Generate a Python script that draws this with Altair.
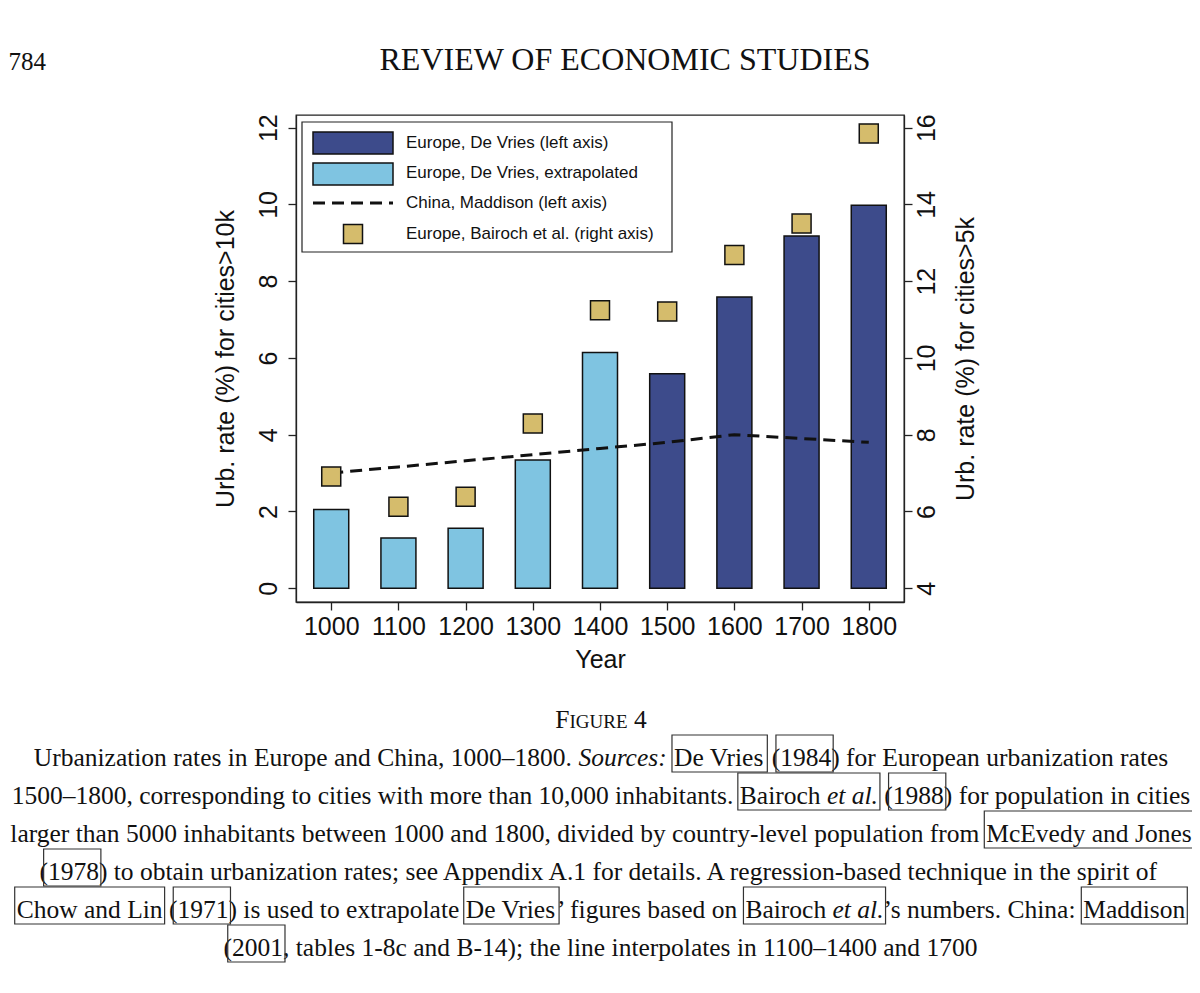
import altair as alt
import pandas as pd

# ---------------- data ----------------
years = [1000, 1100, 1200, 1300, 1400, 1500, 1600, 1700, 1800]
devries = [2.05, 1.31, 1.56, 3.34, 6.14, 5.59, 7.59, 9.18, 9.98]
devries_kind = ["extrapolated"] * 5 + ["observed"] * 4
china = [3.0, 3.16, 3.32, 3.48, 3.64, 3.8, 4.0, 3.9, 3.8]
bairoch = [6.91, 6.12, 6.38, 8.29, 11.24, 11.21, 12.68, 13.5, 15.85]

legend_labels = [
    "Europe, De Vries (left axis)",
    "Europe, De Vries, extrapolated",
    "China, Maddison (left axis)",
    "Europe, Bairoch et al. (right axis)",
]
left_ticks = [0, 2, 4, 6, 8, 10, 12]
right_ticks = [4, 6, 8, 10, 12, 14, 16]

page_number = "784"
journal = "REVIEW OF ECONOMIC STUDIES"
fig_label = [("F", "big"), ("IGURE", "small"), ("4", "big")]
# caption segments: (text, italic, link-group)
caption = [
    [("Urbanization rates in Europe and China, 1000–1800. ", 0, None), ("Sources:", 1, None), (" ", 0, None),
     ("De Vries", 0, "a"), (" ", 0, None), ("(1984", 0, "b"), (") for European urbanization rates", 0, None)],
    [("1500–1800, corresponding to cities with more than 10,000 inhabitants. ", 0, None), ("Bairoch ", 0, "a"),
     ("et al.", 1, "a"), (" ", 0, None), ("(1988", 0, "b"), (") for population in cities", 0, None)],
    [("larger than 5000 inhabitants between 1000 and 1800, divided by country-level population from ", 0, None),
     ("McEvedy and Jones", 0, "a")],
    [("(1978", 0, "a"), (") to obtain urbanization rates; see Appendix A.1 for details. A regression-based technique in the spirit of", 0, None)],
    [("Chow and Lin", 0, "a"), (" ", 0, None), ("(1971", 0, "b"), (") is used to extrapolate ", 0, None),
     ("De Vries", 0, "c"), ("’ figures based on ", 0, None), ("Bairoch ", 0, "d"), ("et al.", 1, "d"),
     ("’s numbers. China: ", 0, None), ("Maddison", 0, "e")],
    [("(2001", 0, "a"), (", tables 1-8c and B-14); the line interpolates in 1100–1400 and 1700", 0, None)],
]

# ---------------- layout / style ----------------
SANS = "Liberation Sans"
SERIF = "Liberation Serif"
INK = "#111111"
NAVY = "#3d4b8b"
LIGHT = "#7fc4e1"
TAN = "#d5bc6c"

W, H = 608, 487
PX0, PY0 = 296, 115          # page position of the plot area
XDOM = [955, 1845]
YL = [-0.36, 12.33]
YR = [YL[0] + 4, YL[1] + 4]

CAP_SIZE = 25.5
CAP_CX = 601
CAP_BASE = [766, 804, 842, 880, 918, 956]

TIMES = {" ": 250, "!": 333, "%": 833, "'": 180, "’": 333, "(": 333, ")": 333, ",": 250, "-": 333, ".": 250,
         ":": 278, ";": 278, "–": 500,
         "A": 722, "B": 667, "C": 667, "D": 722, "E": 611, "F": 556, "G": 722, "H": 722, "I": 333, "J": 389,
         "K": 722, "L": 611, "M": 889, "N": 722, "O": 722, "P": 556, "Q": 722, "R": 667, "S": 556, "T": 611,
         "U": 722, "V": 722, "W": 944, "X": 722, "Y": 722, "Z": 611,
         "a": 444, "b": 500, "c": 444, "d": 500, "e": 444, "f": 333, "g": 500, "h": 500, "i": 278, "j": 278,
         "k": 500, "l": 278, "m": 778, "n": 500, "o": 500, "p": 500, "q": 500, "r": 333, "s": 389, "t": 278,
         "u": 500, "v": 500, "w": 722, "x": 500, "y": 500, "z": 444}
TIMES_I = {" ": 250, ":": 333, ".": 250, "S": 500, "a": 500, "c": 444, "e": 444, "l": 278, "o": 500,
           "r": 389, "s": 389, "t": 278, "u": 500}


def tw(text, italic, size):
    table = TIMES_I if italic else TIMES
    return sum(table.get(ch, 500) for ch in text) * size / 1000.0


one = pd.DataFrame({"k": [0]})


def txt(s, x, y, size, font, style="normal", align="left", baseline="alphabetic"):
    return alt.Chart(one).mark_text(font=font, fontSize=size, fontStyle=style, align=align,
                                    baseline=baseline, color=INK).encode(
        x=alt.value(x), y=alt.value(y), text=alt.value(s))


def box(x1, x2, y1, y2, fill="none", stroke="#333333", sw=1.2):
    return alt.Chart(one).mark_rect(fill=fill, stroke=stroke, strokeWidth=sw).encode(
        x=alt.value(x1), x2=alt.value(x2), y=alt.value(y1), y2=alt.value(y2))


# ---------------- main chart ----------------
df = pd.DataFrame({"year": years, "devries": devries, "kind": devries_kind,
                   "china": china, "bairoch": bairoch})

xenc = alt.X("year:Q", scale=alt.Scale(domain=XDOM, nice=False, zero=False),
             axis=alt.Axis(values=years, format="d", title="Year", tickSize=8, labelPadding=4,
                           titlePadding=8, grid=False, labelFontSize=25, titleFontSize=25,
                           labelFont=SANS, titleFont=SANS, titleFontWeight="normal",
                           labelColor=INK, titleColor=INK, domainColor="#222", tickColor="#222",
                           labelFlush=False))

left_axis = alt.Axis(values=left_ticks, orient="left", title="Urb. rate (%) for cities>10k",
                     labelAngle=270, labelAlign="center", labelBaseline="bottom", labelPadding=7,
                     tickSize=8, titleAngle=270, titleBaseline="bottom", titlePadding=18,
                     grid=False, labelFontSize=25, titleFontSize=25, labelFont=SANS,
                     titleFont=SANS, titleFontWeight="normal", labelColor=INK, titleColor=INK,
                     domainColor="#222", tickColor="#222", labelFlush=False)
yscale_left = alt.Scale(domain=YL, nice=False, zero=False)

bars = alt.Chart(df).mark_bar(size=35, stroke=INK, strokeWidth=1.5).encode(
    x=xenc, y=alt.Y("devries:Q", scale=yscale_left, axis=left_axis),
    color=alt.Color("kind:N", scale=alt.Scale(domain=["observed", "extrapolated"], range=[NAVY, LIGHT]),
                    legend=None))

line = alt.Chart(df).mark_line(color=INK, strokeWidth=3, strokeDash=[12, 7]).encode(
    x=xenc, y=alt.Y("china:Q", scale=yscale_left, axis=left_axis))

left = alt.layer(bars, line)

squares = alt.Chart(df).mark_point(shape="square", size=361, filled=True, fill=TAN, stroke=INK,
                                   strokeWidth=1.5, opacity=1).encode(
    x=xenc,
    y=alt.Y("bairoch:Q", scale=alt.Scale(domain=YR, nice=False, zero=False),
            axis=alt.Axis(values=right_ticks, orient="right", title="Urb. rate (%) for cities>5k",
                          labelAngle=270, labelAlign="center", labelBaseline="top", labelPadding=2,
                          tickSize=8, titleAngle=270, titleBaseline="top", titlePadding=14,
                          grid=False, labelFontSize=25, titleFontSize=25, labelFont=SANS,
                          titleFont=SANS, titleFontWeight="normal", labelColor=INK, titleColor=INK,
                          domainColor="#222", tickColor="#222", labelFlush=False)))

# ---------------- legend (inside plot, top-left) ----------------
leg = [box(6, 376, 7, 137, fill="white", stroke="#222", sw=1.2),
       box(17, 97, 17, 39, fill=NAVY, stroke=INK, sw=1.5),
       box(17, 97, 48, 70, fill=LIGHT, stroke=INK, sw=1.5),
       alt.Chart(one).mark_rule(color=INK, strokeWidth=3, strokeDash=[12, 7]).encode(
           x=alt.value(17), x2=alt.value(97), y=alt.value(88)),
       alt.Chart(one).mark_point(shape="square", size=361, filled=True, fill=TAN, stroke=INK,
                                 strokeWidth=1.5, opacity=1).encode(x=alt.value(57), y=alt.value(119))]
for lab, yy in zip(legend_labels, [28, 58, 88, 119]):
    leg.append(txt(lab, 110, yy, 17, SANS, baseline="middle"))

# ---------------- page text ----------------
page = [txt(page_number, 8.5 - PX0, 70 - PY0, 25, SERIF, align="left"),
        txt(journal, 625 - PX0, 70 - PY0, 32, SERIF, align="center")]

fsizes = {"big": CAP_SIZE, "small": 19}
fw = sum(tw(s, 0, fsizes[k]) for s, k in fig_label) + tw(" ", 0, CAP_SIZE)
fx = CAP_CX - fw / 2
for s, k in fig_label:
    if s == "4":
        fx += tw(" ", 0, CAP_SIZE)
    page.append(txt(s, fx - PX0, 728 - PY0, fsizes[k], SERIF))
    fx += tw(s, 0, fsizes[k])

for segs, base in zip(caption, CAP_BASE):
    total = sum(tw(s, it, CAP_SIZE) for s, it, _ in segs)
    x = CAP_CX - total / 2
    groups = {}
    for s, it, g in segs:
        w = tw(s, it, CAP_SIZE)
        lead = len(s) - len(s.lstrip(" "))
        xs = x + tw(" " * lead, 0, CAP_SIZE)
        if s.strip():
            page.append(txt(s.strip(" "), xs - PX0, base - PY0, CAP_SIZE, SERIF,
                            style="italic" if it else "normal"))
        if g is not None:
            start = x + (tw("(", 0, CAP_SIZE) * 0.5 if s.startswith("(") else -2)
            if g in groups:
                groups[g][1] = x + tw(s.rstrip(" "), it, CAP_SIZE) + 2
            else:
                groups[g] = [start, x + tw(s.rstrip(" "), it, CAP_SIZE) + 2]
        x += w
    for g, (a, b) in groups.items():
        page.append(box(a - PX0, b - PX0, base - 31 - PY0, base + 6 - PY0))

chart = alt.layer(left, squares, *leg, *page).resolve_scale(y="independent").properties(
    width=W, height=H,
    padding={"left": PX0 - 8, "top": PY0 - 8, "right": 1184 - (PX0 - 8) - W,
             "bottom": 970 - (PY0 - 8) - H},
    autosize=alt.AutoSizeParams(type="none"),
    background="white",
).configure_view(stroke="#222", strokeWidth=1.3).configure_axis(domainWidth=1.3, tickWidth=1.3)

chart.save("out.html", embed_options={"renderer": "svg", "actions": False})
